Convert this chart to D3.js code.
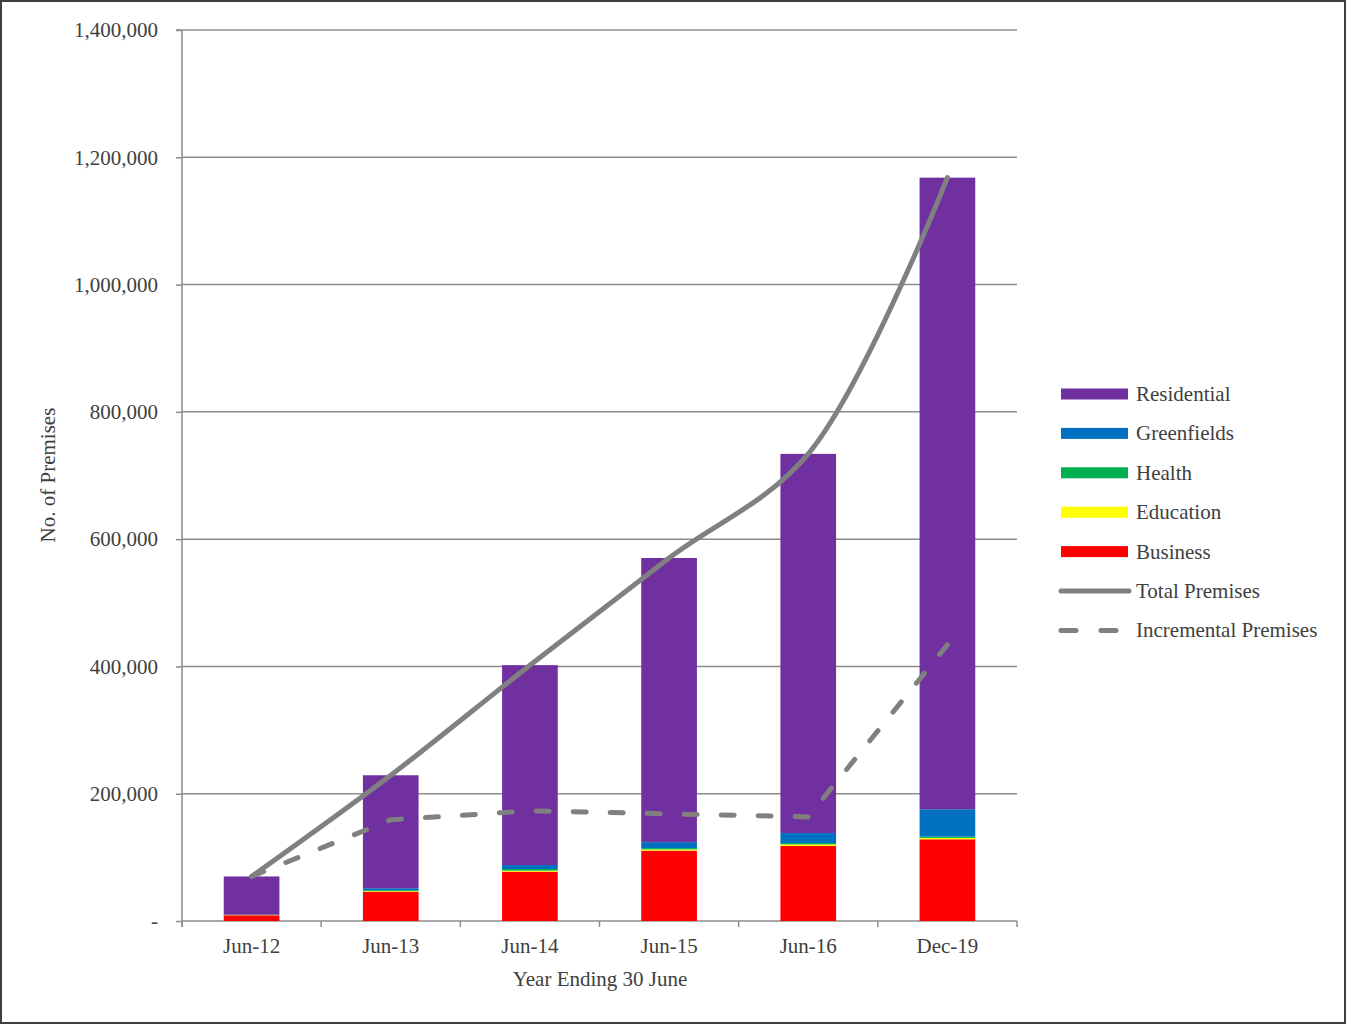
<!DOCTYPE html>
<html>
<head>
<meta charset="utf-8">
<script src="https://cdn.jsdelivr.net/npm/d3@7"></script>
<style>
  body { margin: 0; background: #fff; }
  svg text { font-family: "Liberation Serif", "Times New Roman", serif; fill: #404040; }
</style>
</head>
<body>
<svg id="chart" width="1346" height="1024"></svg>
<script>
// data
var periods = ["Jun-12", "Jun-13", "Jun-14", "Jun-15", "Jun-16", "Dec-19"];
var business    = [9000, 46000, 77500, 110500, 117800, 128400];
var education   = [300, 1000, 1600, 2000, 2600, 2100];
var health      = [300, 1500, 2600, 2000, 2100, 2100];
var greenfields = [400, 3000, 6300, 9400, 15700, 43000];
var residential = [60000, 177500, 314000, 446500, 595800, 992400];
var yTicks = [0, 200000, 400000, 600000, 800000, 1000000, 1200000, 1400000];

var seriesNames = ["Business", "Education", "Health", "Greenfields", "Residential"];
var seriesColors = {
    "Residential": "#7030A0",
    "Greenfields": "#0070C0",
    "Health": "#00B050",
    "Education": "#FFFF00",
    "Business": "#FF0000"
};

var rows = periods.map(function(p, i){
    return {
        period: p,
        Business: business[i],
        Education: education[i],
        Health: health[i],
        Greenfields: greenfields[i],
        Residential: residential[i]
    };
});
var totals = rows.map(function(r){
    return seriesNames.reduce(function(s, k){ return s + r[k]; }, 0);
});
var increments = totals.map(function(t, i){ return i === 0 ? t : t - totals[i-1]; });

var svg = d3.select("#chart");
var plotLeft = 182, plotRight = 1017, plotTop = 30, plotBottom = 921;
var gridColor = "#8c8c8c";
var fontSize = "21px";

// outer border
svg.append("rect")
    .attr("x", 1).attr("y", 1).attr("width", 1344).attr("height", 1022)
    .attr("fill", "none").attr("stroke", "#404040").attr("stroke-width", 2);

var x = d3.scaleBand().domain(periods).range([plotLeft, plotRight]).paddingInner(0.6).paddingOuter(0.3);
var xb = d3.scaleBand().domain(periods).range([plotLeft, plotRight]);
var y = d3.scaleLinear().domain([0, 1400000]).range([plotBottom, plotTop]);

// gridlines
svg.append("g").selectAll("line")
    .data(yTicks.slice(1))
    .enter().append("line")
        .attr("x1", plotLeft).attr("x2", plotRight)
        .attr("y1", function(d){ return y(d); })
        .attr("y2", function(d){ return y(d); })
        .attr("stroke", gridColor).attr("stroke-width", 1.5);

// y axis
var yAxis = d3.axisLeft(y)
    .tickValues(yTicks)
    .tickSize(6)
    .tickPadding(18)
    .tickFormat(function(d){ return d === 0 ? "-" : d3.format(",")(d); });
var gy = svg.append("g").attr("transform", "translate(" + plotLeft + ",0)").call(yAxis);
gy.select(".domain").attr("stroke", gridColor).attr("stroke-width", 1.5)
    .attr("d", "M-6," + plotTop + "H0V" + (plotBottom + 6));
gy.selectAll(".tick line").attr("stroke", gridColor).attr("stroke-width", 1.5);
gy.selectAll(".tick text").style("font-size", fontSize).attr("fill", "#404040")
    .attr("font-family", "Liberation Serif");

// x axis
var gx = svg.append("g").attr("transform", "translate(0," + plotBottom + ")");
gx.append("line").attr("x1", plotLeft).attr("x2", plotRight).attr("y1", 0).attr("y2", 0)
    .attr("stroke", gridColor).attr("stroke-width", 1.5);
var bounds = periods.map(function(p){ return xb(p); }).concat([plotRight]);
gx.selectAll(".xtick").data(bounds).enter().append("line")
    .attr("x1", function(d){ return d; }).attr("x2", function(d){ return d; })
    .attr("y1", 0).attr("y2", 6)
    .attr("stroke", gridColor).attr("stroke-width", 1.5);
gx.selectAll(".xlab").data(periods).enter().append("text")
    .attr("x", function(d){ return xb(d) + xb.bandwidth()/2; })
    .attr("y", 32)
    .attr("text-anchor", "middle")
    .style("font-size", fontSize)
    .text(function(d){ return d; });

// stacked bars
var stack = d3.stack().keys(seriesNames)(rows);
svg.append("g").selectAll("g")
    .data(stack)
    .enter().append("g")
        .attr("fill", function(d){ return seriesColors[d.key]; })
    .selectAll("rect")
    .data(function(d){ return d; })
    .enter().append("rect")
        .attr("x", function(d){ return x(d.data.period); })
        .attr("width", x.bandwidth())
        .attr("y", function(d){ return y(d[1]); })
        .attr("height", function(d){ return y(d[0]) - y(d[1]); });

// lines: total is smoothed, incremental is straight segments
var cx = function(d, i){ return xb(periods[i]) + xb.bandwidth()/2; };
var smoothLine = d3.line()
    .x(cx)
    .y(function(d){ return y(d); })
    .curve(d3.curveCatmullRom.alpha(0.5));
var straightLine = d3.line()
    .x(cx)
    .y(function(d){ return y(d); });

svg.append("path")
    .datum(totals)
    .attr("d", smoothLine)
    .attr("fill", "none").attr("stroke", "#808080")
    .attr("stroke-width", 5).attr("stroke-linecap", "round");

svg.append("path")
    .datum(increments)
    .attr("d", straightLine)
    .attr("fill", "none").attr("stroke", "#808080")
    .attr("stroke-width", 5).attr("stroke-linecap", "round").attr("stroke-linejoin", "round")
    .attr("stroke-dasharray", "13,24");

// axis titles
svg.append("text")
    .attr("transform", "translate(55,475) rotate(-90)")
    .attr("text-anchor", "middle")
    .style("font-size", fontSize)
    .text("No. of Premises");
svg.append("text")
    .attr("x", 600).attr("y", 986)
    .attr("text-anchor", "middle")
    .style("font-size", fontSize)
    .text("Year Ending 30 June");

// legend
var legendItems = ["Residential", "Greenfields", "Health", "Education", "Business", "Total Premises", "Incremental Premises"];
var lg = svg.append("g");
var item = lg.selectAll("g").data(legendItems).enter().append("g")
    .attr("transform", function(d, i){ return "translate(1061," + (394 + i*39.4) + ")"; });
item.each(function(d){
    var g = d3.select(this);
    if (seriesColors[d]) {
        g.append("rect").attr("x", 0).attr("y", -5.5).attr("width", 67).attr("height", 11)
            .attr("fill", seriesColors[d]);
    } else {
        var ln = g.append("line").attr("x1", 0).attr("x2", 68).attr("y1", 0).attr("y2", 0)
            .attr("stroke", "#808080").attr("stroke-width", 5).attr("stroke-linecap", "round");
        if (d === "Incremental Premises") ln.attr("x2", 59).attr("stroke-dasharray", "15,25");
    }
    g.append("text").attr("x", 75).attr("y", 7)
        .style("font-size", fontSize)
        .text(d);
});
</script>
</body>
</html>
